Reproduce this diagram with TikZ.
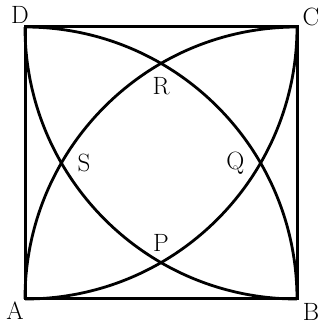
\documentclass[tikz,border=0pt]{standalone}
\usepackage{tikz}
\usetikzlibrary{calc,positioning}
\tikzset{
  sqedge/.style={line width=3pt, draw=black, line join=miter},
  quarterarc/.style={line width=2.8pt, draw=black},
  ptlabel/.style={font=\fontsize{25}{27}\selectfont, inner sep=0pt}
}

\begin{document}
\begin{tikzpicture}[x=1pt,y=1pt]
\useasboundingbox (0,0) rectangle (321,326);
% corners of the square
\coordinate (A) at (25,27);
\coordinate (B) at (297,27);
\coordinate (C) at (297,299);
\coordinate (D) at (25,299);
% where the arcs cross
\coordinate (P) at ($(D)!0.5!(C)+(0,-235.6)$);
\coordinate (R) at ($(A)!0.5!(B)+(0,235.6)$);
\coordinate (S) at ($(A)!0.5!(D)+(36.4,0)$);
\coordinate (Q) at ($(B)!0.5!(C)+(-36.4,0)$);

\draw[sqedge] (A) -- (B) -- (C) -- (D) -- cycle;
\draw[quarterarc] (B) arc[start angle=0, end angle=90, radius=272pt];
\draw[quarterarc] (C) arc[start angle=90, end angle=180, radius=272pt];
\draw[quarterarc] (B) arc[start angle=270, end angle=180, radius=272pt];
\draw[quarterarc] (A) arc[start angle=-90, end angle=0, radius=272pt];

\node[ptlabel] (lA) at ($(A)+(-10,-12)$) {A};
\node[ptlabel] (lB) at ($(B)+(14,-13)$) {B};
\node[ptlabel] (lC) at ($(C)+(14,10)$) {C};
\node[ptlabel] (lD) at ($(D)+(-5,12)$) {D};
\node[ptlabel, above=11pt of P] (lP) {P};
\node[ptlabel, below=14pt of R] (lR) {R};
\node[ptlabel, right=16pt of S] (lS) {S};
\node[ptlabel, left=16pt of Q] (lQ) {Q};
\end{tikzpicture}
\end{document}
